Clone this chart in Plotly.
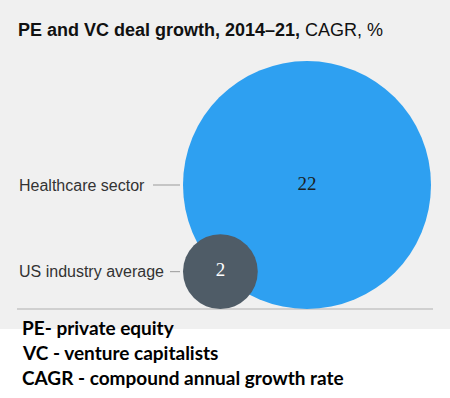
import plotly.graph_objects as go
import math

# ---- data ----
categories = ["Healthcare sector", "US industry average"]
cagr_values = [22, 2]
value_labels = ["22", "2"]
title_bold = "PE and VC deal growth, 2014–21,"
title_rest = "CAGR, %"
footnotes = ["PE- private equity", "VC - venture capitalists", "CAGR - compound annual growth rate"]

# ---- style / layout constants ----
W, H = 450, 398
bubble_colors = ["#2ea0f1", "#4f5c67"]
text_colors = ["#1b1f24", "#ffffff"]
max_diam = 248.0
sizeref = 2.0 * max(cagr_values) / max_diam ** 2
left_edge = 183.0
baseline_y = 309.0
label_x = 17
leader_start = [153, 170]
leader_end = 180

# pixel diameter in plotly area mode = sqrt(2*v/sizeref)
radii = [math.sqrt(2.0 * v / sizeref) / 2 for v in cagr_values]
cx = [left_edge + r for r in radii]
cy = [baseline_y - r for r in radii]

fig = go.Figure()

# grey panel
fig.add_shape(type="rect", xref="x", yref="y", x0=0, x1=W, y0=0, y1=329,
              fillcolor="#f0f0f0", line_width=0, layer="below")
# baseline
fig.add_shape(type="line", xref="x", yref="y", x0=17, x1=433, y0=baseline_y, y1=baseline_y,
              line=dict(color="#c6c6c6", width=1.5), layer="below")

fig.add_trace(go.Scatter(
    x=cx, y=cy, mode="markers+text",
    marker=dict(size=cagr_values, sizemode="area", sizeref=sizeref,
                color=bubble_colors, opacity=1, line=dict(width=0)),
    text=value_labels, textposition="middle center",
    textfont=dict(family="Liberation Serif, DejaVu Serif, serif", size=19, color=text_colors),
    hoverinfo="skip", showlegend=False,
))

for i, cat in enumerate(categories):
    fig.add_annotation(x=label_x, y=cy[i], xref="x", yref="y", text=cat, showarrow=False,
                       xanchor="left", yanchor="middle",
                       font=dict(family="Liberation Sans, Arial, sans-serif", size=16, color="#333333"))
    fig.add_shape(type="line", xref="x", yref="y", x0=leader_start[i], x1=leader_end,
                  y0=cy[i], y1=cy[i], line=dict(color="#a8a8a8", width=1.2))

fig.add_annotation(x=16, y=30, xref="x", yref="y",
                   text=f"<b>{title_bold}</b> {title_rest}", showarrow=False,
                   xanchor="left", yanchor="middle",
                   font=dict(family="Liberation Sans, Arial, sans-serif", size=18, color="#111111"))

for i, note in enumerate(footnotes):
    fig.add_annotation(x=20, y=327 + 25 * i, xref="x", yref="y", text=f"<b>{note}</b>",
                       showarrow=False, xanchor="left", yanchor="middle",
                       font=dict(family="Lato, sans-serif", size=19, color="#000000"))

fig.update_layout(
    width=W, height=H, margin=dict(l=0, r=0, t=0, b=0),
    paper_bgcolor="#ffffff", plot_bgcolor="rgba(0,0,0,0)",
    xaxis=dict(range=[0, W], visible=False, fixedrange=True),
    yaxis=dict(range=[H, 0], visible=False, fixedrange=True),
    showlegend=False,
)

fig.write_html("out.html", config={"displayModeBar": False},
               post_script="document.body.style.margin='0';")
